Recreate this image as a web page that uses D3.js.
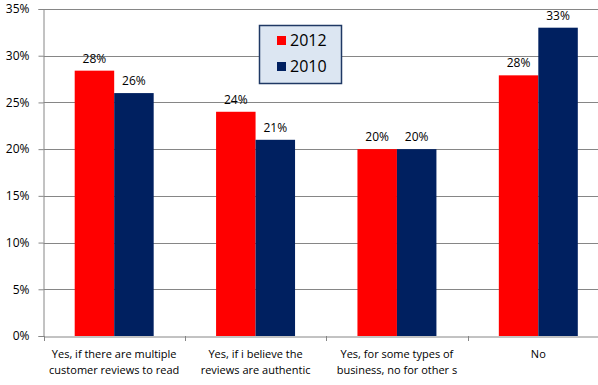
<!DOCTYPE html>
<html>
<head>
<meta charset="utf-8">
<script src="https://cdn.jsdelivr.net/npm/d3@7"></script>
<style>
  body { margin: 0; background: #fff; }
  text { font-family: "Open Sans", "Liberation Sans", sans-serif; fill: #000; }
</style>
</head>
<body>
<div id="chart"></div>
<script>
var categories = [
   ["Yes, if there are multiple", "customer reviews to read"],
   ["Yes, if i believe the", "reviews are authentic"],
   ["Yes, for some types of", "business, no for other s"],
   ["No"]
];
var series = ["2012", "2010"];
var values2012 = [0.284, 0.24, 0.20, 0.279];
var values2010 = [0.26, 0.21, 0.20, 0.33];
var yTicks = [0, 0.05, 0.10, 0.15, 0.20, 0.25, 0.30, 0.35];
var colors = { "2012": "#ff0000", "2010": "#002060" };

var width = 598, height = 385;
var plotLeft = 43.5, plotTop = 9, plotBottom = 336, plotRight = 609;

var svg = d3.select("#chart").append("svg")
   .attr("width", width)
   .attr("height", height);

var x = d3.scaleBand()
   .domain(d3.range(categories.length))
   .range([plotLeft, plotRight]);

var x1 = d3.scaleBand()
   .domain(series)
   .range([0, x.bandwidth()])
   .paddingOuter(0.79)
   .paddingInner(0);

var y = d3.scaleLinear()
   .domain([0, 0.35])
   .range([plotBottom, plotTop]);

// gridlines
svg.append("g")
   .selectAll("line")
   .data(yTicks.slice(1))
   .enter()
   .append("line")
   .attr("x1", plotLeft)
   .attr("x2", width)
   .attr("y1", function(d) { return Math.round(y(d)) + 0.5; })
   .attr("y2", function(d) { return Math.round(y(d)) + 0.5; })
   .attr("stroke", "#868686")
   .attr("stroke-width", 1);

// bars
var rows = d3.range(categories.length).map(function(i) {
   return [{ key: "2012", v: values2012[i] }, { key: "2010", v: values2010[i] }];
});

var group = svg.append("g")
   .selectAll("g")
   .data(rows)
   .enter()
   .append("g")
   .attr("transform", function(d, i) { return "translate(" + x(i) + ",0)"; });

group.selectAll("rect")
   .data(function(d) { return d; })
   .enter()
   .append("rect")
   .attr("x", function(d) { return x1(d.key); })
   .attr("width", x1.bandwidth())
   .attr("y", function(d) { return y(d.v); })
   .attr("height", function(d) { return y(0) - y(d.v); })
   .attr("fill", function(d) { return colors[d.key]; });

group.selectAll("text")
   .data(function(d) { return d; })
   .enter()
   .append("text")
   .attr("x", function(d) { return x1(d.key) + x1.bandwidth() / 2; })
   .attr("y", function(d) { return y(d.v) - 8; })
   .attr("text-anchor", "middle")
   .style("font-size", "12px")
   .text(function(d) { return d3.format(".0%")(d.v); });

// y axis
var yAxis = svg.append("g")
   .attr("transform", "translate(" + plotLeft + ",0)")
   .call(d3.axisLeft(y).tickValues(yTicks).tickFormat(d3.format(".0%")).tickSize(5).tickPadding(9));
yAxis.select(".domain").attr("stroke", "#868686");
yAxis.selectAll(".tick line").attr("stroke", "#868686");
yAxis.selectAll(".tick text")
   .style("font-size", "12px")
   .style("font-family", "'Open Sans', sans-serif")
   .attr("fill", "#000");

// x axis
var xAxis = svg.append("g")
   .attr("transform", "translate(0," + (plotBottom + 0.5) + ")")
   .call(d3.axisBottom(x).tickSize(0).tickFormat(""));
xAxis.select(".domain").attr("stroke", "#868686");

svg.append("g")
   .selectAll("line")
   .data(d3.range(categories.length + 1))
   .enter()
   .append("line")
   .attr("x1", function(i) { return Math.round(plotLeft + i * x.step()) + 0.5; })
   .attr("x2", function(i) { return Math.round(plotLeft + i * x.step()) + 0.5; })
   .attr("y1", plotBottom)
   .attr("y2", plotBottom + 5)
   .attr("stroke", "#868686");

svg.append("g")
   .selectAll("text")
   .data(categories)
   .enter()
   .append("text")
   .attr("x", function(d, i) { return x(i) + x.bandwidth() / 2; })
   .attr("y", 358)
   .attr("text-anchor", "middle")
   .style("font-size", "11px")
   .selectAll("tspan")
   .data(function(d) { return d; })
   .enter()
   .append("tspan")
   .attr("x", function() { return d3.select(this.parentNode).attr("x"); })
   .attr("dy", function(d, i) { return i === 0 ? 0 : 16; })
   .text(function(d) { return d; });

// legend
var legend = svg.append("g").attr("class", "legend");
legend.append("rect")
   .attr("x", 259.5)
   .attr("y", 25.5)
   .attr("width", 82)
   .attr("height", 58)
   .attr("fill", "#dce6f2")
   .attr("stroke", "#1f3864")
   .attr("stroke-width", 1.5);

var item = legend.selectAll("g.category")
   .data(series)
   .enter()
   .append("g")
   .attr("class", "category");

item.append("rect")
   .attr("x", 277)
   .attr("y", function(d, i) { return 36 + i * 26; })
   .attr("width", 9)
   .attr("height", 9)
   .attr("fill", function(d) { return colors[d]; });

item.append("text")
   .attr("x", 290)
   .attr("y", function(d, i) { return 46 + i * 26; })
   .style("font-size", "16px")
   .text(function(d) { return d; });
</script>
</body>
</html>
